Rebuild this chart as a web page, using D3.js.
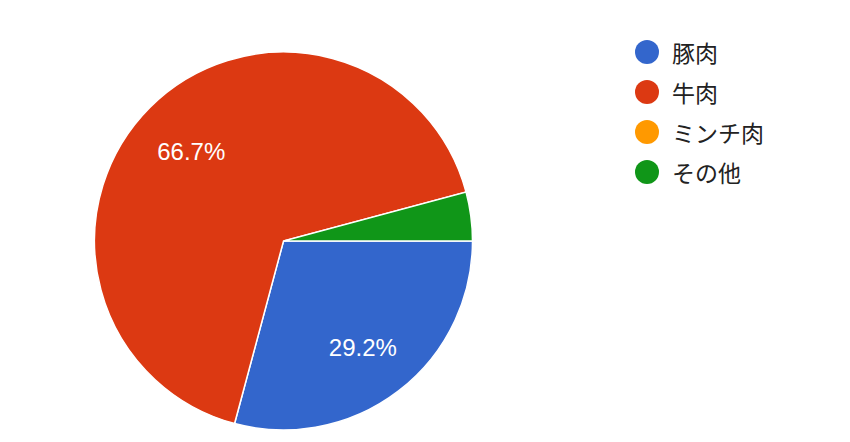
<!DOCTYPE html>
<html><head><meta charset="utf-8">
<script src="https://cdn.jsdelivr.net/npm/d3@7/dist/d3.min.js"></script>
<style>body{margin:0;background:#fff;}</style>
</head><body>
<svg id="c" width="850" height="442"></svg>
<script>
const categories = ["豚肉", "牛肉", "ミンチ肉", "その他"];
const values = [7, 16, 0, 1];
const colors = ["#3366cc", "#dc3912", "#ff9900", "#109618"];

const svg = d3.select("#c");
const cx = 283.5, cy = 241, r = 189;
const total = d3.sum(values);
const data = categories.map((c, i) => ({cat: c, v: values[i], col: colors[i]}));
const pie = d3.pie().value(d => d.v).sort(null).startAngle(Math.PI / 2).endAngle(Math.PI / 2 + 2 * Math.PI);
const arcs = pie(data);
const arc = d3.arc().innerRadius(0).outerRadius(r);
const labelArc = d3.arc().innerRadius(r * 0.69).outerRadius(r * 0.69);

const g = svg.append("g").attr("transform", `translate(${cx},${cy})`);
g.selectAll("path").data(arcs.filter(d => d.data.v > 0)).join("path")
  .attr("d", arc).attr("fill", d => d.data.col)
  .attr("stroke", "#fff").attr("stroke-width", 1.5);
g.selectAll("text").data(arcs.filter(d => d.data.v / total > 0.05)).join("text")
  .attr("transform", d => `translate(${labelArc.centroid(d)})`)
  .attr("dy", 3)
  .attr("text-anchor", "middle").attr("dominant-baseline", "central")
  .attr("fill", "#fff").attr("font-family", "Arial, 'Liberation Sans', sans-serif")
  .attr("font-size", 24)
  .text(d => (d.data.v / total * 100).toFixed(1) + "%");

const legend = svg.append("g");
const ys = d3.scalePoint().domain(categories).range([52, 172]);
const li = legend.selectAll("g").data(data).join("g")
  .attr("transform", d => `translate(647,${ys(d.cat)})`);
li.append("circle").attr("r", 12).attr("fill", d => d.col);
li.append("text").attr("x", 25).attr("dominant-baseline", "central")
  .attr("font-family", "'Noto Sans CJK JP', sans-serif").attr("font-size", 23)
  .attr("fill", "#222").text(d => d.cat);
</script>
</body></html>
